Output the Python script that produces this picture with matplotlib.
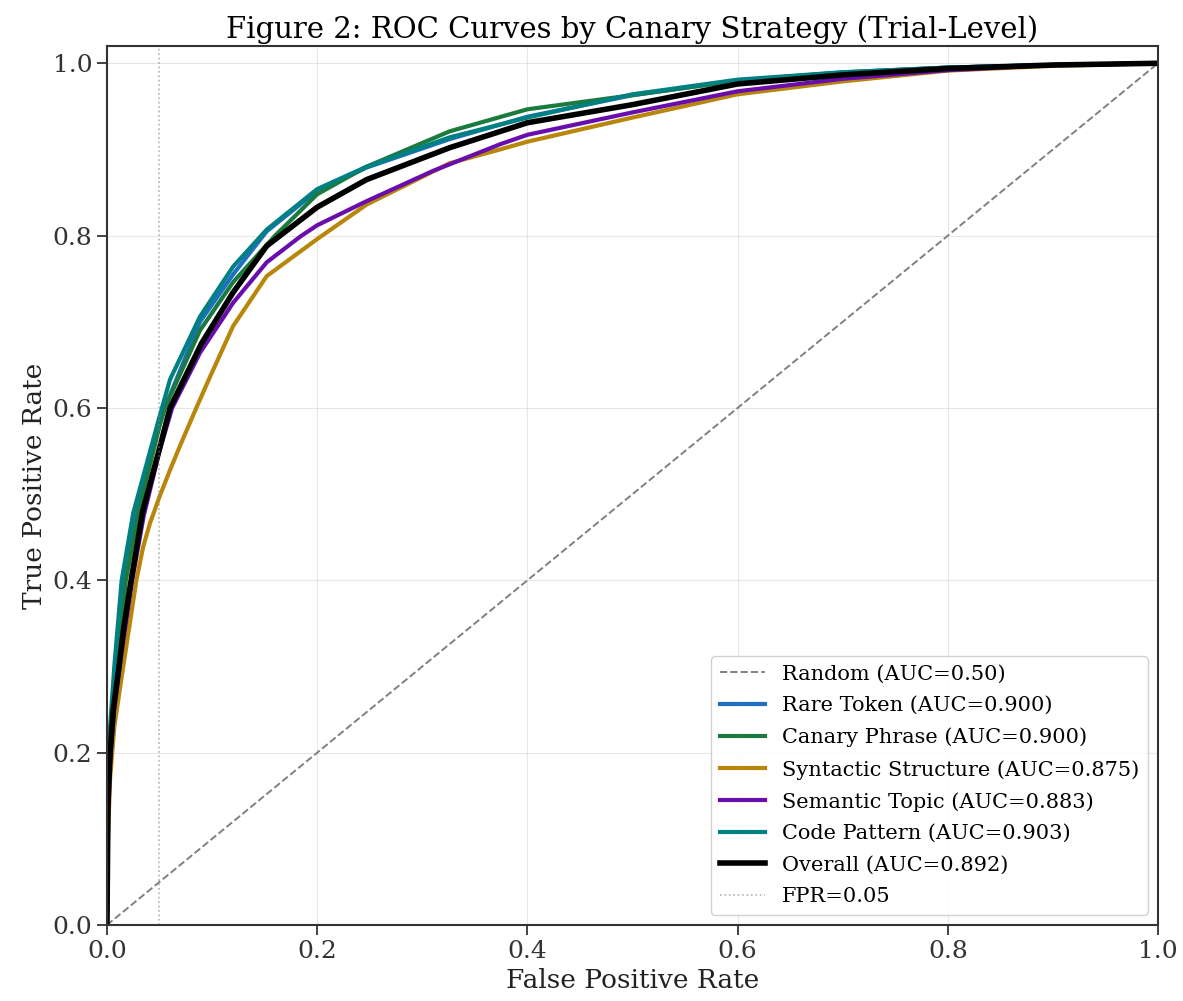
import matplotlib
matplotlib.use("Agg")
import matplotlib.pyplot as plt

plt.rcParams["font.family"] = ["DejaVu Serif"]

# ROC points: (FPR list, TPR list) per strategy
rare_fpr = [0, 0.001, 0.003, 0.007, 0.016, 0.028, 0.05, 0.055, 0.0885, 0.12, 0.152, 0.2, 0.247, 0.326, 0.4, 0.5, 0.6, 0.7, 0.8, 0.9, 1.0]
rare_tpr = [0, 0.16, 0.22, 0.28, 0.40, 0.48, 0.58, 0.60, 0.70, 0.755, 0.805, 0.852, 0.879, 0.912, 0.938, 0.963, 0.980, 0.9895, 0.995, 0.998, 1.0]

canary_fpr = [0, 0.001, 0.003, 0.007, 0.012, 0.018, 0.03, 0.05, 0.055, 0.0885, 0.12, 0.16, 0.2, 0.247, 0.326, 0.4, 0.5, 0.6, 0.7, 0.8, 0.9, 1.0]
canary_tpr = [0, 0.15, 0.21, 0.27, 0.33, 0.40, 0.48, 0.579, 0.60, 0.69, 0.746, 0.80, 0.848, 0.88, 0.921, 0.9466, 0.963, 0.980, 0.989, 0.995, 0.998, 1.0]

syntactic_fpr = [0, 0.001, 0.003, 0.007, 0.0155, 0.028, 0.0345, 0.041, 0.05, 0.06, 0.0695, 0.085, 0.098, 0.12, 0.152, 0.2, 0.247, 0.326, 0.374, 0.4, 0.5, 0.6, 0.7, 0.8, 0.9, 1.0]
syntactic_tpr = [0, 0.10, 0.17, 0.23, 0.30, 0.40, 0.439, 0.4665, 0.497, 0.528, 0.556, 0.60, 0.636, 0.695, 0.753, 0.796, 0.836, 0.884, 0.90, 0.909, 0.937, 0.964, 0.979, 0.9915, 0.997, 1.0]

semantic_fpr = [0, 0.001, 0.003, 0.007, 0.012, 0.024, 0.035, 0.05, 0.062, 0.0885, 0.12, 0.152, 0.184, 0.2, 0.247, 0.31, 0.374, 0.4, 0.5, 0.6, 0.7, 0.8, 0.9, 1.0]
semantic_tpr = [0, 0.13, 0.19, 0.25, 0.30, 0.40, 0.475, 0.55, 0.60, 0.664, 0.722, 0.769, 0.799, 0.812, 0.84, 0.875, 0.906, 0.917, 0.943, 0.9675, 0.982, 0.992, 0.998, 1.0]

code_fpr = [0, 0.001, 0.003, 0.007, 0.014, 0.025, 0.05, 0.06, 0.0885, 0.12, 0.152, 0.2, 0.247, 0.326, 0.4, 0.5, 0.6, 0.7, 0.8, 0.9, 1.0]
code_tpr = [0, 0.17, 0.23, 0.30, 0.40, 0.478, 0.59, 0.633, 0.706, 0.764, 0.807, 0.854, 0.88, 0.914, 0.937, 0.964, 0.981, 0.9896, 0.995, 0.998, 1.0]

overall_fpr = [0, 0.001, 0.003, 0.006, 0.011, 0.016, 0.023, 0.034, 0.05, 0.06, 0.09, 0.12, 0.152, 0.2, 0.247, 0.326, 0.4, 0.5, 0.6, 0.7, 0.8, 0.9, 1.0]
overall_tpr = [0, 0.14, 0.20, 0.25, 0.295, 0.345, 0.40, 0.48, 0.553, 0.60, 0.675, 0.734, 0.788, 0.833, 0.865, 0.902, 0.931, 0.952, 0.976, 0.9865, 0.994, 0.998, 1.0]

labels = ["Rare Token", "Canary Phrase", "Syntactic Structure", "Semantic Topic", "Code Pattern"]
aucs = [0.900, 0.900, 0.875, 0.883, 0.903]
colors = ["#1f6fc4", "#1b7a3e", "#b8860b", "#6a0dad", "#008080"]
curves = [
    (rare_fpr, rare_tpr),
    (canary_fpr, canary_tpr),
    (syntactic_fpr, syntactic_tpr),
    (semantic_fpr, semantic_tpr),
    (code_fpr, code_tpr),
]


def main():
    fig, ax = plt.subplots(figsize=(11.83, 10.01), dpi=100)
    fig.subplots_adjust(left=0.0904, right=0.9789, bottom=0.0759, top=0.954)

    ax.plot([0, 1], [0, 1], linestyle="--", color="gray", linewidth=1.4,
            label="Random (AUC=0.50)")

    for (fpr, tpr), name, auc, color in zip(curves, labels, aucs, colors):
        ax.plot(fpr, tpr, color=color, linewidth=3,
                label=f"{name} (AUC={auc:.3f})")

    ax.plot(overall_fpr, overall_tpr, color="black", linewidth=4,
            label="Overall (AUC=0.892)")

    ax.axvline(0.05, color="gray", linestyle=":", linewidth=1.2, alpha=0.6,
               label="FPR=0.05")

    ax.set_xlim(0, 1)
    ax.set_ylim(0, 1.02)
    ax.set_title("Figure 2: ROC Curves by Canary Strategy (Trial-Level)", fontsize=21)
    ax.set_xlabel("False Positive Rate", fontsize=19, color="#222222")
    ax.set_ylabel("True Positive Rate", fontsize=19, color="#222222")
    ax.tick_params(labelsize=18, length=7, width=1.3, colors="#333333")
    for spine in ax.spines.values():
        spine.set_linewidth(1.5)
        spine.set_color("#333333")

    ax.grid(True, alpha=0.3)

    ax.legend(loc="lower right", fontsize=15, framealpha=0.9,
              edgecolor="#cccccc", handlelength=2.2, labelspacing=0.6)

    fig.savefig("out.png", dpi=100)
    plt.close(fig)


if __name__ == "__main__":
    main()
